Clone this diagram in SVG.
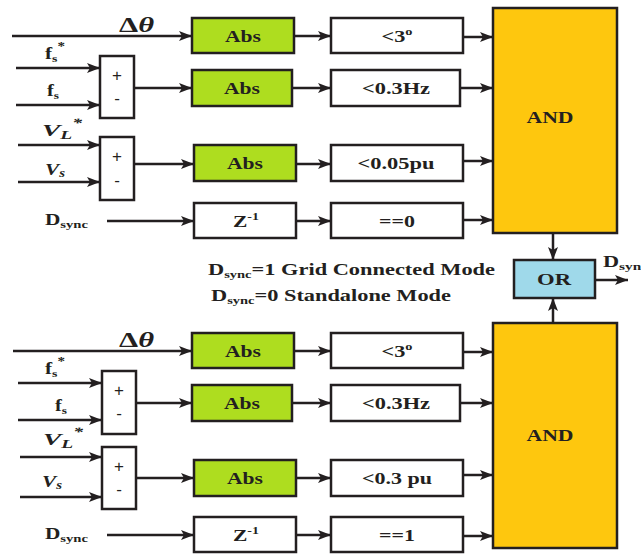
<svg xmlns="http://www.w3.org/2000/svg" width="641" height="558" viewBox="0 0 641 558">
<defs>
<marker id="ah" viewBox="0 0 13 10" refX="13" refY="5" markerWidth="13" markerHeight="10" markerUnits="userSpaceOnUse" orient="auto">
<path d="M0,0 L13,5 L0,10 L3,5 z" fill="#231f20"/>
</marker>
<style>
.box{stroke:#231f20;stroke-width:2.5;fill:#fff}
.abs{fill:#aedd1f}
.and{fill:#fec70e}
.or{fill:#9fd9ea}
.ln{stroke:#231f20;stroke-width:2.5;fill:none;marker-end:url(#ah)}
.t{font-family:"Liberation Serif",serif;font-weight:bold;fill:#231f20;text-anchor:middle;font-size:17px}
.l{font-family:"Liberation Serif",serif;font-weight:bold;fill:#231f20}
.pm{font-family:"Liberation Sans",sans-serif;fill:#231f20;text-anchor:middle;font-size:17px}
</style>
</defs>
<rect width="641" height="558" fill="#fff"/>

<g id="connectors">
<line class="ln" x1="12" y1="36" x2="192" y2="36"/>
<line class="ln" x1="16" y1="68" x2="100" y2="68"/>
<line class="ln" x1="16" y1="105" x2="100" y2="105"/>
<line class="ln" x1="134" y1="88" x2="192" y2="88"/>
<line class="ln" x1="18" y1="145" x2="100" y2="145"/>
<line class="ln" x1="18" y1="182" x2="100" y2="182"/>
<line class="ln" x1="134" y1="164" x2="194" y2="164"/>
<line class="ln" x1="107" y1="221" x2="194" y2="221"/>
<line class="ln" x1="294" y1="36" x2="331" y2="36"/>
<line class="ln" x1="292" y1="88" x2="331" y2="88"/>
<line class="ln" x1="296" y1="164" x2="331" y2="164"/>
<line class="ln" x1="296" y1="221" x2="331" y2="221"/>
<line class="ln" x1="463" y1="37" x2="493" y2="37"/>
<line class="ln" x1="460" y1="88" x2="493" y2="88"/>
<line class="ln" x1="463" y1="161" x2="493" y2="161"/>
<line class="ln" x1="463" y1="220" x2="493" y2="220"/>
<line class="ln" x1="553" y1="233" x2="553" y2="260"/>
<line class="ln" x1="553" y1="323" x2="553" y2="298"/>
<line class="ln" x1="595" y1="280" x2="628" y2="280"/>
<line class="ln" x1="13" y1="351" x2="192" y2="351"/>
<line class="ln" x1="18" y1="383" x2="102" y2="383"/>
<line class="ln" x1="18" y1="420" x2="102" y2="420"/>
<line class="ln" x1="136" y1="403" x2="192" y2="403"/>
<line class="ln" x1="20" y1="457" x2="102" y2="457"/>
<line class="ln" x1="20" y1="497" x2="102" y2="497"/>
<line class="ln" x1="136" y1="478" x2="194" y2="478"/>
<line class="ln" x1="107" y1="535" x2="194" y2="535"/>
<line class="ln" x1="294" y1="351" x2="331" y2="351"/>
<line class="ln" x1="292" y1="403" x2="331" y2="403"/>
<line class="ln" x1="296" y1="478" x2="331" y2="478"/>
<line class="ln" x1="296" y1="535" x2="331" y2="535"/>
<line class="ln" x1="463" y1="352" x2="493" y2="352"/>
<line class="ln" x1="460" y1="403" x2="493" y2="403"/>
<line class="ln" x1="463" y1="475" x2="493" y2="475"/>
<line class="ln" x1="463" y1="536" x2="493" y2="536"/>
</g>

<g id="labels">
<text class="l" x="119" y="32" font-size="20" textLength="35" lengthAdjust="spacingAndGlyphs">Δ<tspan font-style="italic">θ</tspan></text>
<text class="l" x="45" y="59" font-size="17" textLength="20" lengthAdjust="spacingAndGlyphs">f<tspan font-size="11" dy="3">s</tspan><tspan font-size="12" dy="-12">*</tspan></text>
<text class="l" x="47" y="96" font-size="17" textLength="12" lengthAdjust="spacingAndGlyphs">f<tspan font-size="11" dy="3">s</tspan></text>
<text class="l" x="42" y="136" font-size="17" font-style="italic" textLength="40" lengthAdjust="spacingAndGlyphs">V<tspan font-size="12" dy="3">L</tspan><tspan font-size="12" dy="-12">*</tspan></text>
<text class="l" x="45" y="175" font-size="17" font-style="italic" textLength="20" lengthAdjust="spacingAndGlyphs">V<tspan font-size="12" dy="2">s</tspan></text>
<text class="l" x="45" y="225" font-size="16" textLength="43" lengthAdjust="spacingAndGlyphs">D<tspan font-size="11" dy="3">sync</tspan></text>

<text class="l" x="119" y="347" font-size="20" textLength="35" lengthAdjust="spacingAndGlyphs">Δ<tspan font-style="italic">θ</tspan></text>
<text class="l" x="45" y="374" font-size="17" textLength="20" lengthAdjust="spacingAndGlyphs">f<tspan font-size="11" dy="3">s</tspan><tspan font-size="12" dy="-12">*</tspan></text>
<text class="l" x="55" y="411" font-size="17" textLength="12" lengthAdjust="spacingAndGlyphs">f<tspan font-size="11" dy="3">s</tspan></text>
<text class="l" x="43" y="445" font-size="17" font-style="italic" textLength="40" lengthAdjust="spacingAndGlyphs">V<tspan font-size="12" dy="3">L</tspan><tspan font-size="12" dy="-12">*</tspan></text>
<text class="l" x="42" y="487" font-size="17" font-style="italic" textLength="20" lengthAdjust="spacingAndGlyphs">V<tspan font-size="12" dy="2">s</tspan></text>
<text class="l" x="45" y="539" font-size="16" textLength="43" lengthAdjust="spacingAndGlyphs">D<tspan font-size="11" dy="3">sync</tspan></text>

<text class="l" x="208" y="275" font-size="17" textLength="287" lengthAdjust="spacingAndGlyphs">D<tspan font-size="11" dy="3">sync</tspan><tspan dy="-3">=1 Grid Connected Mode</tspan></text>
<text class="l" x="211" y="301" font-size="17" textLength="240" lengthAdjust="spacingAndGlyphs">D<tspan font-size="11" dy="3">sync</tspan><tspan dy="-3">=0 Standalone Mode</tspan></text>
<text class="l" x="603" y="267" font-size="16" textLength="45" lengthAdjust="spacingAndGlyphs">D<tspan font-size="11" dy="3">sync</tspan></text>
</g>

<g id="sum1"><rect class="box" x="100" y="56" width="34" height="62"/><text class="pm" x="117" y="81">+</text><text class="pm" x="117" y="104">-</text></g>
<g id="sum2"><rect class="box" x="100" y="137" width="34" height="63"/><text class="pm" x="117" y="162">+</text><text class="pm" x="117" y="186">-</text></g>
<g id="abs1"><rect class="box abs" x="192" y="18" width="102" height="35"/><text class="t" x="243" y="42" textLength="36" lengthAdjust="spacingAndGlyphs">Abs</text></g>
<g id="abs2"><rect class="box abs" x="192" y="70" width="100" height="36"/><text class="t" x="242" y="94" textLength="36" lengthAdjust="spacingAndGlyphs">Abs</text></g>
<g id="abs3"><rect class="box abs" x="194" y="145" width="102" height="36"/><text class="t" x="245" y="169" textLength="36" lengthAdjust="spacingAndGlyphs">Abs</text></g>
<g id="z1"><rect class="box" x="194" y="203" width="102" height="35"/><text class="t" x="246" y="227" textLength="26" lengthAdjust="spacingAndGlyphs">Z<tspan font-size="11" dy="-7">-1</tspan></text></g>
<g id="cmp1"><rect class="box" x="331" y="18" width="132" height="35"/><text class="t" x="397" y="42" textLength="31" lengthAdjust="spacingAndGlyphs">&lt;3<tspan font-size="11" dy="-7">o</tspan></text></g>
<g id="cmp2"><rect class="box" x="331" y="70" width="129" height="36"/><text class="t" x="396" y="94" textLength="68" lengthAdjust="spacingAndGlyphs">&lt;0.3Hz</text></g>
<g id="cmp3"><rect class="box" x="331" y="145" width="132" height="36"/><text class="t" x="396" y="169" textLength="77" lengthAdjust="spacingAndGlyphs">&lt;0.05pu</text></g>
<g id="cmp4"><rect class="box" x="331" y="203" width="132" height="35"/><text class="t" x="397" y="227" textLength="36" lengthAdjust="spacingAndGlyphs">==0</text></g>
<g id="and1"><rect class="box and" x="493" y="8" width="124" height="225"/><text class="t" x="550" y="123" textLength="47" lengthAdjust="spacingAndGlyphs">AND</text></g>
<g id="or"><rect class="box or" x="514" y="260" width="81" height="38"/><text class="t" x="554" y="285" textLength="34" lengthAdjust="spacingAndGlyphs">OR</text></g>

<g id="sum3"><rect class="box" x="102" y="371" width="34" height="63"/><text class="pm" x="119" y="396">+</text><text class="pm" x="119" y="419">-</text></g>
<g id="sum4"><rect class="box" x="102" y="447" width="34" height="62"/><text class="pm" x="119" y="472">+</text><text class="pm" x="119" y="495">-</text></g>
<g id="abs4"><rect class="box abs" x="192" y="333" width="102" height="35"/><text class="t" x="243" y="357" textLength="36" lengthAdjust="spacingAndGlyphs">Abs</text></g>
<g id="abs5"><rect class="box abs" x="192" y="385" width="100" height="36"/><text class="t" x="242" y="409" textLength="36" lengthAdjust="spacingAndGlyphs">Abs</text></g>
<g id="abs6"><rect class="box abs" x="194" y="460" width="102" height="36"/><text class="t" x="245" y="484" textLength="36" lengthAdjust="spacingAndGlyphs">Abs</text></g>
<g id="z2"><rect class="box" x="194" y="517" width="102" height="35"/><text class="t" x="246" y="541" textLength="26" lengthAdjust="spacingAndGlyphs">Z<tspan font-size="11" dy="-7">-1</tspan></text></g>
<g id="cmp5"><rect class="box" x="331" y="333" width="132" height="35"/><text class="t" x="397" y="357" textLength="31" lengthAdjust="spacingAndGlyphs">&lt;3<tspan font-size="11" dy="-7">o</tspan></text></g>
<g id="cmp6"><rect class="box" x="331" y="385" width="129" height="36"/><text class="t" x="396" y="409" textLength="68" lengthAdjust="spacingAndGlyphs">&lt;0.3Hz</text></g>
<g id="cmp7"><rect class="box" x="331" y="460" width="132" height="36"/><text class="t" x="397" y="484" textLength="70" lengthAdjust="spacingAndGlyphs">&lt;0.3 pu</text></g>
<g id="cmp8"><rect class="box" x="331" y="517" width="132" height="35"/><text class="t" x="397" y="541" textLength="36" lengthAdjust="spacingAndGlyphs">==1</text></g>
<g id="and2"><rect class="box and" x="493" y="323" width="124" height="225"/><text class="t" x="550" y="441" textLength="47" lengthAdjust="spacingAndGlyphs">AND</text></g>
</svg>
